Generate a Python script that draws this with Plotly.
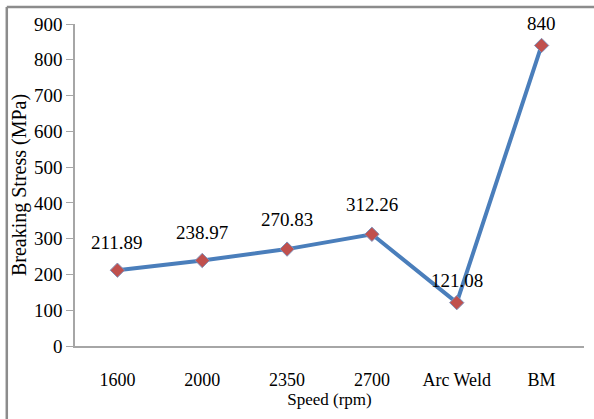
import plotly.graph_objects as go

# categories and measured values
speeds = ["1600", "2000", "2350", "2700", "Arc Weld", "BM"]
stress = [211.89, 238.97, 270.83, 312.26, 121.08, 840]
labels = ["211.89", "238.97", "270.83", "312.26", "121.08", "840"]
label_shift = [28, 28, 30, 30, 22, 22]
y_ticks = [0, 100, 200, 300, 400, 500, 600, 700, 800, 900]

serif = "Liberation Serif, Times New Roman, serif"

fig = go.Figure()

fig.add_trace(go.Scatter(
    x=speeds, y=stress,
    mode="lines+markers",
    line=dict(color="#4a7ebb", width=4),
    marker=dict(symbol="diamond", size=11, color="#c0504d",
                line=dict(color="#7f8fb8", width=1)),
    cliponaxis=False,
    hoverinfo="x+y",
))

# value labels above each point (category index, since the names look numeric)
for i, (val, txt, dy) in enumerate(zip(stress, labels, label_shift)):
    fig.add_annotation(x=i, y=val, text=txt, showarrow=False,
                       yshift=dy, font=dict(family=serif, size=19, color="black"))

fig.update_xaxes(
    type="category", range=[-0.5, len(speeds) - 0.5],
    showline=True, linecolor="#a6a6a6", linewidth=1.5,
    ticks="outside", ticklen=17, tickcolor="rgba(0,0,0,0)",
    tickfont=dict(family=serif, size=18, color="black"),
    showgrid=False, zeroline=False,
    title=dict(text="Speed (rpm)", font=dict(family=serif, size=17, color="black"),
               standoff=2),
)

fig.update_yaxes(
    range=[0, 900], tickvals=y_ticks,
    showline=True, linecolor="#a6a6a6", linewidth=1.5,
    ticks="outside", ticklen=7, tickcolor="#a6a6a6",
    tickfont=dict(family=serif, size=19, color="black"),
    showgrid=False, zeroline=False,
    title=dict(text="Breaking Stress (MPa)", font=dict(family=serif, size=20, color="black"),
               standoff=2),
)

# frame of the original picture (only top and left edges show)
fig.add_shape(type="line", xref="paper", yref="paper",
              x0=-0.134, x1=1.02, y0=1.053, y1=1.053,
              line=dict(color="#8c8c8c", width=2.5))
fig.add_shape(type="line", xref="paper", yref="paper",
              x0=-0.134, x1=-0.134, y0=1.053, y1=-0.23,
              line=dict(color="#8c8c8c", width=2.5))

fig.update_layout(
    width=594, height=419,
    margin=dict(l=75, r=10, t=24, b=73, autoexpand=False),
    paper_bgcolor="white", plot_bgcolor="white",
    showlegend=False,
)

fig.write_html("out.html", config={"displayModeBar": False},
               post_script="document.body.style.margin='0';")
